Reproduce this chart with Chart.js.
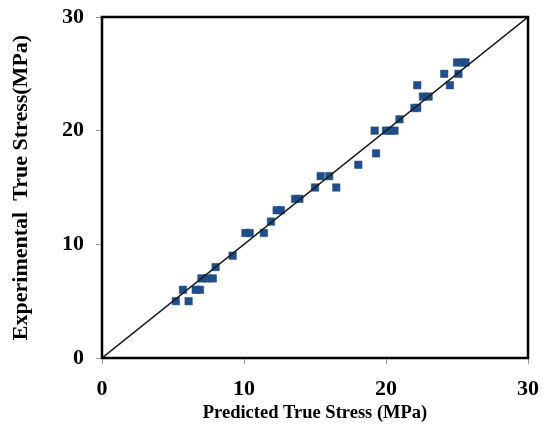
<!DOCTYPE html>
<html>
<head>
<meta charset="utf-8">
<script src="https://cdn.jsdelivr.net/npm/chart.js@4.4.0/dist/chart.umd.min.js"></script>
<style>
  html, body { margin: 0; padding: 0; background: #fff; }
  #wrap { width: 549px; height: 428px; }
</style>
</head>
<body>
<div id="wrap"><canvas id="chart"></canvas></div>
<script>
// predicted vs experimental true stress (MPa)
const predicted = [5.2, 5.7, 6.1, 6.6, 6.9, 7.0, 7.4, 7.8, 8.0, 9.2, 10.1, 10.4, 11.4, 11.9, 12.3, 12.6,
    13.6, 13.9, 15.0, 15.4, 16.0, 16.5, 18.05, 19.2, 19.3, 20.0, 20.3, 20.6, 20.95, 22.0, 22.2, 22.2,
    22.6, 23.0, 24.1, 24.5, 25.0, 25.4, 25.1, 25.6];
const experimental = [5, 6, 5, 6, 6, 7, 7, 7, 8, 9, 11, 11, 11, 12, 13, 13,
    14, 14, 15, 16, 16, 15, 17, 20, 18, 20, 20, 20, 21, 22, 22, 24,
    23, 23, 25, 24, 26, 26, 25, 26];
const axisTicks = [0, 10, 20, 30];
const lineEnds = [0, 30];

const serif = "'Liberation Serif', 'Times New Roman', serif";

const boxPlugin = {
    id: "box",
    afterDatasetsDraw(chart) {
        const a = chart.chartArea;
        const ctx = chart.ctx;
        ctx.save();
        ctx.strokeStyle = "#000";
        ctx.lineWidth = 2.5;
        ctx.strokeRect(a.left, a.top, a.right - a.left, a.bottom - a.top);
        ctx.restore();
    }
};

function axisOpts(title, titleSize, tickPad, titlePad, fit) {
    return {
        type: "linear",
        min: 0,
        max: 30,
        afterBuildTicks: (s) => { s.ticks = axisTicks.map(v => ({ value: v })); },
        afterFit: (s) => {
            fit(s);
            // let layout padding alone decide the plot edges
            s.paddingTop = 0; s.paddingBottom = 0;
            s.paddingLeft = 0; s.paddingRight = 0;
        },
        border: { display: false },
        grid: { drawOnChartArea: false, tickLength: 6, color: "#999", lineWidth: 1 },
        ticks: {
            color: "#000",
            padding: tickPad,
            font: { family: serif, size: 22, weight: "bold" }
        },
        title: {
            display: true,
            text: title,
            color: "#000",
            padding: titlePad,
            font: { family: serif, size: titleSize, weight: "bold" }
        }
    };
}

new Chart(document.getElementById("chart"), {
    type: "scatter",
    data: {
        datasets: [
            {
                type: "line",
                data: lineEnds.map(v => ({ x: v, y: v })),
                borderColor: "#1a1a1a",
                borderWidth: 1.5,
                pointRadius: 0,
                fill: false
            },
            {
                data: predicted.map((p, i) => ({ x: p, y: experimental[i] })),
                pointStyle: "rect",
                pointRadius: 5.3,
                backgroundColor: "#1F4E8A",
                borderColor: "#1F4E8A",
                borderWidth: 0.5
            }
        ]
    },
    options: {
        responsive: true,
        maintainAspectRatio: false,
        animation: false,
        layout: { padding: { top: 17, right: 21, left: 0, bottom: 0 } },
        plugins: { legend: { display: false }, tooltip: { enabled: false } },
        scales: {
            x: axisOpts("Predicted True Stress (MPa)", 18.5, 12, { top: 0, bottom: 4 }, (s) => { s.height = 70; }),
            y: axisOpts("Experimental  True Stress(MPa)", 22, 12, { top: 8, bottom: 0 }, (s) => { s.width = 102; })
        }
    },
    plugins: [boxPlugin]
});
</script>
</body>
</html>
